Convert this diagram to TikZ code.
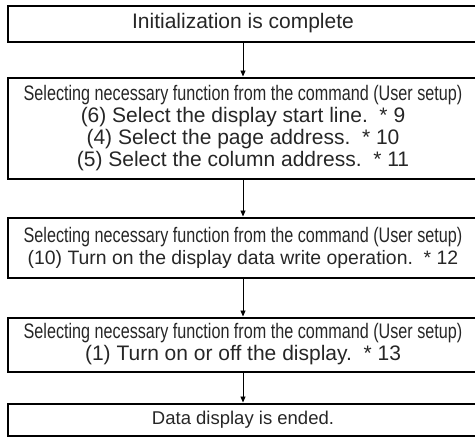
\documentclass[tikz,border=0pt]{standalone}
\usepackage{fontspec}
\setmainfont{Liberation Sans}
\newfontfamily\narrowsf{Liberation Sans}[FakeStretch=0.77]
\usetikzlibrary{arrows.meta}

\begin{document}
\begin{tikzpicture}[
  x=1pt, y=-1pt,
  stepbox/.style={rectangle, draw=black, line width=2pt, minimum width=471pt, inner sep=0pt, align=center, text=black!85, font=\fontsize{21}{22}\selectfont},
  flow/.style={-{Triangle[length=6pt, width=5pt]}, line width=0.8pt}
]
  \useasboundingbox (0,0) rectangle (475,437);
  \node[stepbox, minimum height=36pt]  (init) at (243,23.5)  {Initialization is complete};
  \node[stepbox, minimum height=101pt] (addr) at (243,128)   {{\narrowsf Selecting necessary function from the command (User setup)}\\
    (6) Select the display start line.~~* 9\\
    (4) Select the page address.~~* 10\\
    (5) Select the column address.~~* 11};
  \node[stepbox, minimum height=60pt]  (write) at (243,247.5) {{\narrowsf Selecting necessary function from the command (User setup)}\\
    {\fontsize{19.4}{22}\selectfont (10) Turn on the display data write operation.~~* 12}};
  \node[stepbox, minimum height=54pt]  (disp) at (243,344.5) {{\narrowsf Selecting necessary function from the command (User setup)}\\
    (1) Turn on or off the display.~~* 13};
  \node[stepbox, minimum height=32pt, font=\fontsize{18.5}{20}\selectfont] (ended) at (243,419.5) {Data display is ended.};
  % flow of the steps
  \draw[flow] (init) -- (addr);
  \draw[flow] (addr) -- (write);
  \draw[flow] (write) -- (disp);
  \draw[flow] (disp) -- (ended);
\end{tikzpicture}
\end{document}
